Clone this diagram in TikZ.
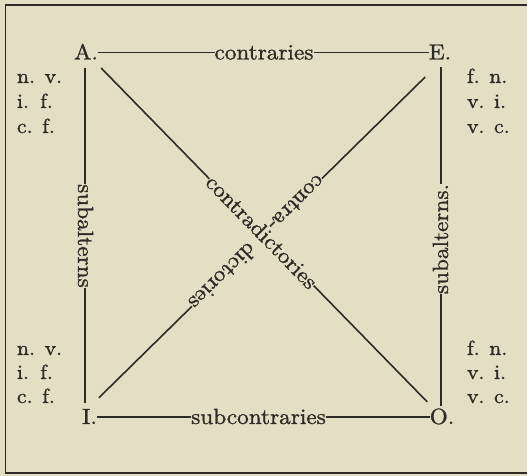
\documentclass[tikz,border=0pt]{standalone}
\usepackage{fontspec}
\newfontfamily\inkfont{lmroman10-regular.otf}[FakeBold=1.3, FakeStretch=1.06]
\definecolor{paper}{HTML}{E4DFC4}
\definecolor{ink}{HTML}{2E2A25}
\begin{document}
\begin{tikzpicture}[x=1bp,y=1bp,
  txt/.style={inner sep=0pt, outer sep=0pt, text=ink, font=\inkfont\fontsize{22}{26}\selectfont, text height=17pt, text depth=3pt},
  cornerlab/.style={inner sep=0pt, outer sep=0pt, text=ink, font=\inkfont\fontsize{20.5}{26}\selectfont, anchor=base west},
  edgeline/.style={draw=ink, line width=1.6pt},
  frameline/.style={draw=ink, line width=2pt}]
\useasboundingbox (0,0) rectangle (527,476);
\fill[paper] (-6,-6) rectangle (533,482);
\draw[frameline] (535,471) -- (5.5,471) -- (5.5,3) -- (535,3);
% corners
\node[txt] (A) at (86,423.5) {A.};
\node[txt] (E) at (440,423.5) {E.};
\node[txt] (I) at (89.5,59) {I.};
\node[txt] (O) at (442,59) {O.};
% edge labels
\node[txt] (con) at (264,423.5) {contraries};
\node[txt] (sub) at (258.5,59) {subcontraries};
\node[txt, rotate=-90] (subL) at (85,240) {subalterns};
\node[txt, rotate=90] (subR) at (441,237) {subalterns.};
\path (A.center) -- (O.center) node[txt, sloped, pos=0.493] (cd) {contradictories};
\path (E.south) -- (I.north)
  node[txt, sloped, allow upside down, pos=0.337, anchor=west] (ct1) {contra-}
  node[txt, sloped, allow upside down, pos=0.7076, anchor=east] (ct2) {dictories};
% connectors
\draw[edgeline] (A.east) -- (con.west);
\draw[edgeline] (con.east) -- (E.west);
\draw[edgeline] (I.east) -- (sub.west);
\draw[edgeline] (sub.east) -- (O.west);
\draw[edgeline, shorten <=5.5pt] (A.south -| subL.west) -- (subL.west);
\draw[edgeline, shorten >=4pt] (subL.east) -- (subL.east |- I.north);
\draw[edgeline, shorten <=4.5pt] (E.south -| subR.east) -- (subR.east);
\draw[edgeline, shorten >=1pt] (subR.west) -- (subR.west |- O.north);
\draw[edgeline, shorten <=21.8pt] (A.center) -- (cd.west);
\draw[edgeline, shorten >=21.3pt] (cd.east) -- (O.center);
\draw[edgeline, shorten <=20.9pt] (E.south) -- (ct1.west);
\draw[edgeline, shorten >=13.2pt] (ct2.east) -- (I.north);
% corner annotations
\node[cornerlab] (a1) at (17,393) {n. v.};
\node[cornerlab] (a2) at (17,368) {i.\hspace{0.55em}f.};
\node[cornerlab] (a3) at (17,343) {c. f.};
\node[cornerlab] (i1) at (17,121) {n. v.};
\node[cornerlab] (i2) at (17,97) {i.\hspace{0.55em}f.};
\node[cornerlab] (i3) at (17,73) {c. f.};
\node[cornerlab] (e1) at (467,393) {f. n.};
\node[cornerlab] (e2) at (467,368) {v. i.};
\node[cornerlab] (e3) at (467,343) {v. c.};
\node[cornerlab] (o1) at (467,121) {f. n.};
\node[cornerlab] (o2) at (467,97) {v. i.};
\node[cornerlab] (o3) at (467,73) {v. c.};
\end{tikzpicture}
\end{document}
